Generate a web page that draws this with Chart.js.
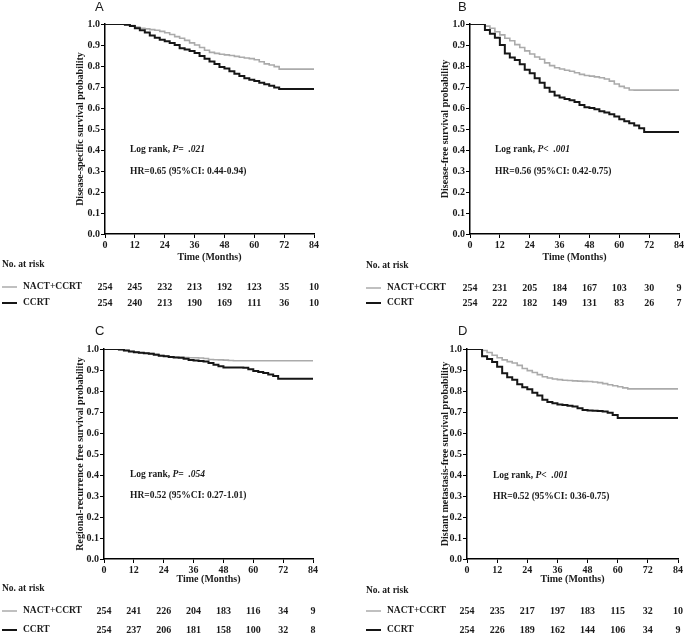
<!DOCTYPE html>
<html>
<head>
<meta charset="utf-8">
<script src="https://cdn.jsdelivr.net/npm/chart.js@4.4.0/dist/chart.umd.min.js"></script>
<style>
  body { margin: 0; background: #fff; width: 685px; height: 636px; position: relative; overflow: hidden; }
  canvas { position: absolute; }
</style>
</head>
<body>
<canvas id="chartA" width="342" height="318" style="left:0;top:0"></canvas>
<canvas id="chartB" width="343" height="318" style="left:342px;top:0"></canvas>
<canvas id="chartC" width="342" height="318" style="left:0;top:318px"></canvas>
<canvas id="chartD" width="343" height="318" style="left:342px;top:318px"></canvas>
<script>
// ---- data ----
const seriesNames = ['NACT+CCRT', 'CCRT'];
const xTicks = [0, 12, 24, 36, 48, 60, 72, 84];
const curveMonths = [0, 2, 4, 6, 8, 10, 12, 14, 16, 18, 20, 22, 24, 26, 28, 30, 32, 34, 36,
  38, 40, 42, 44, 46, 48, 50, 52, 54, 56, 58, 60, 62, 64, 66, 68, 70, 84];

// A: disease-specific survival
const dssNact = [1, 1, 1, 1, 0.998, 0.993, 0.985, 0.98, 0.977, 0.973, 0.97, 0.965, 0.958, 0.95, 0.94, 0.932, 0.922, 0.91, 0.9,
  0.888, 0.875, 0.865, 0.86, 0.856, 0.853, 0.85, 0.846, 0.842, 0.838, 0.835, 0.83, 0.82, 0.81, 0.805, 0.797, 0.785, 0.785];
const dssCcrt = [1, 1, 1, 1, 0.997, 0.99, 0.98, 0.97, 0.96, 0.945, 0.935, 0.925, 0.918, 0.91, 0.9, 0.885, 0.878, 0.872, 0.862,
  0.848, 0.835, 0.822, 0.81, 0.795, 0.788, 0.775, 0.763, 0.752, 0.742, 0.735, 0.728, 0.72, 0.713, 0.706, 0.698, 0.69, 0.69];
const dssRiskNact = [254, 245, 232, 213, 192, 123, 35, 10];
const dssRiskCcrt = [254, 240, 213, 190, 169, 111, 36, 10];

// B: disease-free survival
const dfsNact = [1, 1, 1, 0.99, 0.98, 0.963, 0.948, 0.932, 0.92, 0.902, 0.888, 0.872, 0.857, 0.843, 0.832, 0.815, 0.802, 0.792, 0.786,
  0.78, 0.775, 0.768, 0.76, 0.755, 0.752, 0.748, 0.744, 0.738, 0.728, 0.714, 0.703, 0.695, 0.686, 0.685, 0.685, 0.685, 0.685];
const dfsCcrt = [1, 1, 1, 0.972, 0.953, 0.935, 0.9, 0.86, 0.84, 0.828, 0.808, 0.782, 0.765, 0.742, 0.72, 0.697, 0.677, 0.66, 0.65,
  0.643, 0.637, 0.628, 0.614, 0.604, 0.6, 0.594, 0.585, 0.578, 0.57, 0.56, 0.546, 0.537, 0.527, 0.517, 0.503, 0.486, 0.486];
const dfsRiskNact = [254, 231, 205, 184, 167, 103, 30, 9];
const dfsRiskCcrt = [254, 222, 182, 149, 131, 83, 26, 7];

// C: regional-recurrence free survival
const rrfsNact = [1, 1, 1, 0.998, 0.993, 0.988, 0.985, 0.982, 0.98, 0.978, 0.975, 0.969, 0.966, 0.963, 0.961, 0.96, 0.959, 0.958, 0.958,
  0.957, 0.955, 0.95, 0.949, 0.948, 0.947, 0.945, 0.944, 0.944, 0.944, 0.944, 0.944, 0.944, 0.944, 0.944, 0.944, 0.944, 0.944];
const rrfsCcrt = [1, 1, 1, 0.998, 0.993, 0.988, 0.985, 0.982, 0.98, 0.977, 0.973, 0.968, 0.965, 0.962, 0.96, 0.958, 0.953, 0.948, 0.945,
  0.943, 0.94, 0.933, 0.925, 0.918, 0.912, 0.912, 0.912, 0.912, 0.911, 0.904, 0.895, 0.89, 0.886, 0.878, 0.872, 0.858, 0.858];
const rrfsRiskNact = [254, 241, 226, 204, 183, 116, 34, 9];
const rrfsRiskCcrt = [254, 237, 206, 181, 158, 100, 32, 8];

// D: distant metastasis-free survival
const dmfsNact = [1, 1, 1, 0.993, 0.983, 0.97, 0.958, 0.948, 0.94, 0.933, 0.922, 0.907, 0.897, 0.888, 0.878, 0.868, 0.862, 0.857, 0.854,
  0.851, 0.85, 0.848, 0.847, 0.846, 0.845, 0.843, 0.84, 0.835, 0.83, 0.825, 0.82, 0.815, 0.81, 0.81, 0.81, 0.81, 0.81];
const dmfsCcrt = [1, 1, 1, 0.966, 0.952, 0.938, 0.915, 0.885, 0.866, 0.854, 0.832, 0.818, 0.808, 0.792, 0.778, 0.758, 0.748, 0.742, 0.736,
  0.733, 0.73, 0.726, 0.718, 0.71, 0.707, 0.706, 0.705, 0.702, 0.696, 0.686, 0.672, 0.672, 0.672, 0.672, 0.672, 0.672, 0.672];
const dmfsRiskNact = [254, 235, 217, 197, 183, 115, 32, 10];
const dmfsRiskCcrt = [254, 226, 189, 162, 144, 106, 34, 9];

const GRAY = '#ababab';
const BLACK = '#161616';
const SERIF = '"Liberation Serif", "Times New Roman", serif';

// layout of each panel (canvas coordinates)
const panels = [
  { id: 'chartA', letter: 'A', yTitle: 'Disease-specific survival probability', pOp: '=', pVal: '.021',
    hr: 'HR=0.65 (95%CI: 0.44-0.94)', nact: dssNact, ccrt: dssCcrt, riskNact: dssRiskNact, riskCcrt: dssRiskCcrt,
    area: { left: 105, right: 314, top: 24, bottom: 234 }, letterPos: [95, 7], yTitleX: 80, textPos: [130, 150, 172],
    timeY: 257, tableX: 2, noRiskY: 265, rowY: [287, 303] },
  { id: 'chartB', letter: 'B', yTitle: 'Disease-free survival probability', pOp: '<', pVal: '.001',
    hr: 'HR=0.56 (95%CI: 0.42-0.75)', nact: dfsNact, ccrt: dfsCcrt, riskNact: dfsRiskNact, riskCcrt: dfsRiskCcrt,
    area: { left: 128, right: 337, top: 24, bottom: 234 }, letterPos: [116, 7], yTitleX: 103, textPos: [153, 150, 172],
    timeY: 257, tableX: 24, noRiskY: 266, rowY: [288, 303] },
  { id: 'chartC', letter: 'C', yTitle: 'Regional-recurrence free survival probability', pOp: '=', pVal: '.054',
    hr: 'HR=0.52 (95%CI: 0.27-1.01)', nact: rrfsNact, ccrt: rrfsCcrt, riskNact: rrfsRiskNact, riskCcrt: rrfsRiskCcrt,
    area: { left: 104, right: 313, top: 31, bottom: 241 }, letterPos: [95, 13], yTitleX: 80, textPos: [130, 157, 178],
    timeY: 261, tableX: 2, noRiskY: 271, rowY: [293, 312] },
  { id: 'chartD', letter: 'D', yTitle: 'Distant metastasis-free survival probability', pOp: '<', pVal: '.001',
    hr: 'HR=0.52 (95%CI: 0.36-0.75)', nact: dmfsNact, ccrt: dmfsCcrt, riskNact: dmfsRiskNact, riskCcrt: dmfsRiskCcrt,
    area: { left: 125, right: 336, top: 31, bottom: 241 }, letterPos: [116, 13], yTitleX: 103, textPos: [151, 158, 179],
    timeY: 261, tableX: 24, noRiskY: 273, rowY: [293, 312] }
];

function toPoints(vals) {
  return curveMonths.map((m, i) => ({ x: m, y: vals[i] }));
}

function kmExtras(p) {
  return {
    id: 'kmExtras',
    afterDraw(chart) {
      const ctx = chart.ctx;
      const xs = chart.scales.x;
      const a = chart.chartArea;
      ctx.save();
      ctx.fillStyle = '#1a1a1a';
      ctx.textBaseline = 'middle';

      // panel letter
      ctx.font = '13px "Liberation Sans", Arial, sans-serif';
      ctx.textAlign = 'left';
      ctx.fillText(p.letter, p.letterPos[0], p.letterPos[1]);

      // y axis title
      ctx.save();
      ctx.translate(p.yTitleX, (a.top + a.bottom) / 2);
      ctx.rotate(-Math.PI / 2);
      ctx.textAlign = 'center';
      ctx.font = 'bold 10px ' + SERIF;
      ctx.fillText(p.yTitle, 0, 0);
      ctx.restore();

      // log rank + HR
      let tx = p.textPos[0];
      ctx.textAlign = 'left';
      ctx.font = 'bold 9.5px ' + SERIF;
      ctx.fillText('Log rank, ', tx, p.textPos[1]);
      tx += ctx.measureText('Log rank, ').width;
      ctx.font = 'italic bold 9.5px ' + SERIF;
      ctx.fillText('P' + p.pOp + '  ' + p.pVal, tx, p.textPos[1]);
      ctx.font = 'bold 9.5px ' + SERIF;
      ctx.fillText(p.hr, p.textPos[0], p.textPos[2]);

      // x axis title
      ctx.textAlign = 'center';
      ctx.font = 'bold 10px ' + SERIF;
      ctx.fillText('Time (Months)', (a.left + a.right) / 2, p.timeY);

      // risk table
      ctx.textAlign = 'left';
      ctx.font = 'bold 9.5px ' + SERIF;
      ctx.fillText('No. at risk', p.tableX, p.noRiskY);
      const rows = [[p.riskNact, GRAY, 1.5], [p.riskCcrt, BLACK, 2]];
      rows.forEach((r, k) => {
        const y = p.rowY[k];
        ctx.strokeStyle = r[1];
        ctx.lineWidth = r[2];
        ctx.beginPath();
        ctx.moveTo(p.tableX, y);
        ctx.lineTo(p.tableX + 15, y);
        ctx.stroke();
        ctx.textAlign = 'left';
        ctx.font = 'bold 9.5px ' + SERIF;
        ctx.fillText(seriesNames[k], p.tableX + 21, y);
        ctx.textAlign = 'center';
        ctx.font = 'bold 10px ' + SERIF;
        r[0].forEach((n, i) => {
          ctx.fillText(String(n), xs.getPixelForValue(xTicks[i]), y);
        });
      });
      ctx.restore();
    }
  };
}

panels.forEach(p => {
  const canvas = document.getElementById(p.id);
  const W = canvas.width, H = canvas.height;
  new Chart(canvas.getContext('2d'), {
    type: 'line',
    data: {
      datasets: [
        { label: seriesNames[1], data: toPoints(p.ccrt), borderColor: BLACK, borderWidth: 2, stepped: true, pointRadius: 0 },
        { label: seriesNames[0], data: toPoints(p.nact), borderColor: GRAY, borderWidth: 1.6, stepped: true, pointRadius: 0 }
      ]
    },
    options: {
      responsive: false,
      animation: false,
      layout: { padding: { left: 0, top: p.area.top, right: W - p.area.right, bottom: 0 } },
      plugins: { legend: { display: false }, tooltip: { enabled: false } },
      scales: {
        x: {
          type: 'linear', min: 0, max: 84,
          afterFit: s => { s.height = H - p.area.bottom; },
          afterBuildTicks: s => { s.ticks = xTicks.map(v => ({ value: v })); },
          ticks: { color: '#1a1a1a', font: { family: SERIF, size: 10, weight: 'bold' }, padding: 1, maxRotation: 0 },
          grid: { display: true, drawOnChartArea: false, drawTicks: true, tickLength: 4, color: '#000', lineWidth: 1 },
          border: { display: true, color: '#000', width: 1.5 }
        },
        y: {
          type: 'linear', min: 0, max: 1,
          afterFit: s => { s.width = p.area.left; },
          ticks: { stepSize: 0.1, color: '#1a1a1a', font: { family: SERIF, size: 10, weight: 'bold' }, padding: 1,
            callback: v => v.toFixed(1) },
          grid: { display: true, drawOnChartArea: false, drawTicks: true, tickLength: 4, color: '#000', lineWidth: 1 },
          border: { display: true, color: '#000', width: 1.5 }
        }
      }
    },
    plugins: [kmExtras(p)]
  });
});
</script>
</body>
</html>
